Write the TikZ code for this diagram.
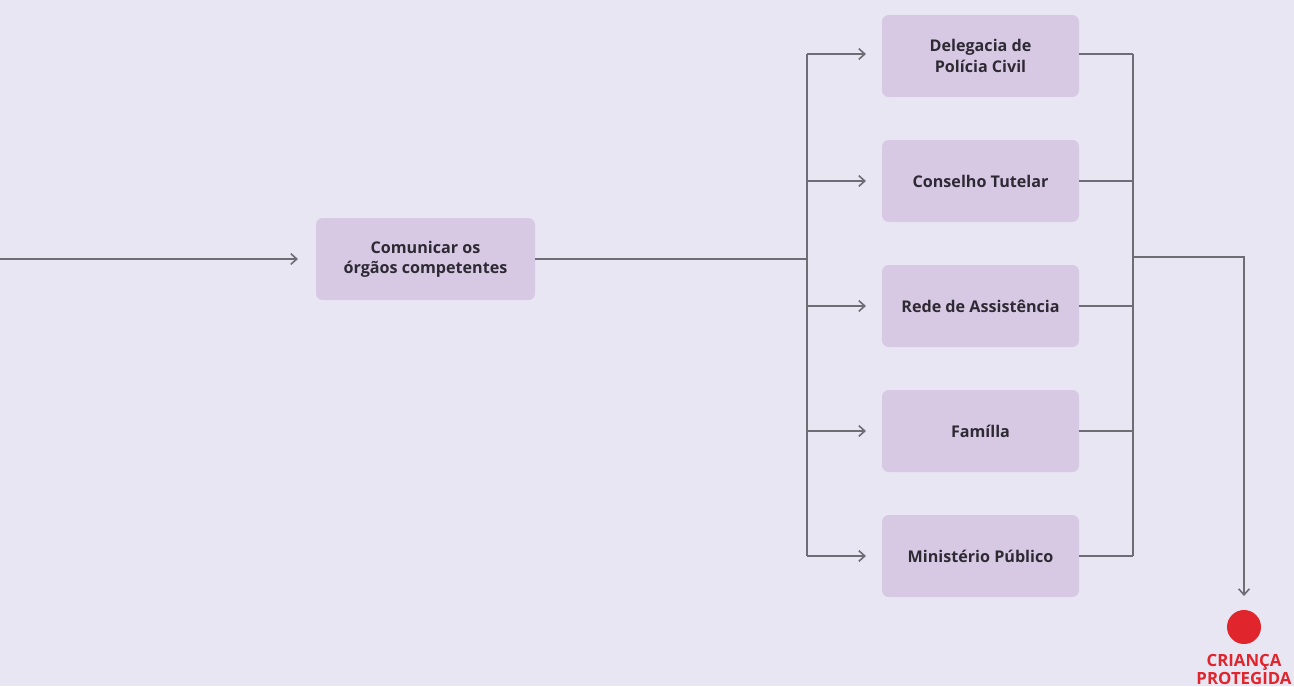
\documentclass[tikz,border=0pt]{standalone}
\usepackage{fontspec}
\setmainfont{Open Sans}
\usetikzlibrary{arrows.meta}
\definecolor{bg}{HTML}{E9E6F4}
\definecolor{boxfill}{HTML}{D7C9E4}
\definecolor{linec}{HTML}{6E6D76}
\definecolor{txt}{HTML}{2E2A33}
\definecolor{redc}{HTML}{E0252C}
\begin{document}
\begin{tikzpicture}[x=0.75pt,y=-0.75pt,
  stepbox/.style={fill=boxfill, rounded corners=5pt, inner sep=0pt,
    minimum width=147.75pt, minimum height=61.5pt, align=center,
    text=txt, font=\bfseries\fontsize{12.1}{15.2}\selectfont},
  conn/.style={draw=linec, line width=1.5pt},
  arr/.style={conn, -{Straight Barb[length=4.5pt,width=8pt,line width=1.2pt]}}]
\fill[bg] (0,0) rectangle (1294,686);
\useasboundingbox (0,0) rectangle (1294,686);
\node[stepbox, minimum width=164.25pt] (c) at (425.5,259) {Comunicar os\\órgãos competentes};
\node[stepbox] (d1) at (980.5,56) {Delegacia de\\Polícia Civil};
\node[stepbox] (d2) at (980.5,181) {Conselho Tutelar};
\node[stepbox] (d3) at (980.5,306) {Rede de Assistência};
\node[stepbox] (d4) at (980.5,431) {Famílla};
\node[stepbox] (d5) at (980.5,556) {Ministério Público};
\coordinate (s) at (0,259);
\coordinate (sa) at (298,259);
\coordinate (j) at (807,259);
\coordinate (j1) at (807,54);
\coordinate (j5) at (807,556);
\coordinate (k1) at (1133,54);
\coordinate (k5) at (1133,556);
\coordinate (k) at (1133,257);
\coordinate (pa) at (1244,596);
\node[circle, fill=redc, inner sep=0pt, minimum size=25.5pt] (p) at (1244,627) {};
\node[text=redc, font=\bfseries\fontsize{12.6}{13.6}\selectfont, align=center, inner sep=0pt] (pl) at (1244,669.5) {CRIANÇA\\PROTEGIDA};
\draw[arr] (s) -- (sa);
\draw[conn] (c.east) -- (j);
\draw[conn] (j1) -- (j5);
\draw[arr] (j1) -- (866,54);
\draw[arr] (807,181) -- (866,181);
\draw[arr] (807,306) -- (866,306);
\draw[arr] (807,431) -- (866,431);
\draw[arr] (j5) -- (866,556);
\draw[conn] (d1.east |- k1) -- (k1);
\draw[conn] (d2.east) -- (1133,181);
\draw[conn] (d3.east) -- (1133,306);
\draw[conn] (d4.east) -- (1133,431);
\draw[conn] (d5.east) -- (k5);
\draw[conn] (k1) -- (k5);
\draw[arr] (k) -| (pa);
\end{tikzpicture}
\end{document}
